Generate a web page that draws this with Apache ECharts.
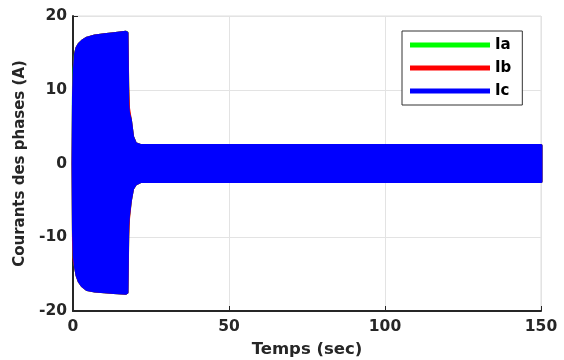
<!DOCTYPE html>
<html>
<head>
<meta charset="utf-8">
<script src="https://cdn.jsdelivr.net/npm/echarts@6/dist/echarts.min.js"></script>
<style>html,body{margin:0;padding:0;background:#fff;}#c{width:564px;height:360px;}</style>
</head>
<body>
<div id="c"></div>
<script>
// Envelope of the three phase currents (A) versus time (s)
var tEnv = [0, 0.15, 0.4, 0.8, 1.3, 2, 3, 4.5, 7, 10, 13, 16.9, 17.3, 17.55, 17.8, 18.4, 19.1, 20.0, 21.6, 150];
var iaUpper = [0, 10.5, 13.0, 15.0, 15.7, 16.2, 16.6, 17.0, 17.3, 17.45, 17.6, 17.8, 17.75, 10.0, 7.0, 5.9, 3.6, 2.7, 2.45, 2.45];
var iaLower = [0, -10.0, -12.8, -14.0, -15.2, -16.0, -16.6, -17.1, -17.3, -17.4, -17.5, -17.6, -17.5, -9.5, -7.2, -5.0, -3.4, -2.8, -2.45, -2.45];
var ibUpper = [0, 8.0, 12.0, 14.8, 15.7, 16.2, 16.6, 17.0, 17.3, 17.45, 17.6, 17.8, 17.7, 10.5, 7.5, 5.9, 3.6, 2.7, 2.45, 2.45];
var ibLower = [0, -10.5, -13.2, -14.0, -15.2, -16.0, -16.6, -17.1, -17.3, -17.4, -17.5, -17.6, -17.5, -10.0, -7.5, -5.0, -3.4, -2.8, -2.45, -2.45];
var icUpper = [0, 9.0, 12.5, 14.8, 15.7, 16.2, 16.6, 17.0, 17.3, 17.45, 17.6, 17.8, 17.7, 8.0, 6.8, 5.9, 3.6, 2.7, 2.45, 2.45];
var icLower = [0, -9.0, -12.5, -14.0, -15.2, -16.0, -16.6, -17.1, -17.3, -17.4, -17.5, -17.6, -17.5, -8.5, -7.0, -5.0, -3.4, -2.8, -2.45, -2.45];
var phaseNames = ['Ia', 'Ib', 'Ic'];
var phaseColors = ['#00ff00', '#ff0000', '#0000ff'];
var xTicks = [0, 50, 100, 150];
var yTicks = [-20, -10, 0, 10, 20];

var env = [[iaUpper, iaLower], [ibUpper, ibLower], [icUpper, icLower]];
var series = phaseNames.map(function (nm, k) {
  var up = env[k][0], lo = env[k][1], col = phaseColors[k];
  return {
    name: nm, type: 'custom', clip: false, silent: true, animation: false,
    itemStyle: { color: col },
    encode: { x: 0, y: [1, 2] },
    data: tEnv.map(function (t, i) { return [t, lo[i], up[i]]; }),
    renderItem: function (params, api) {
      if (params.dataIndexInside !== 0) return null;
      var n = params.dataInsideLength;
      var top = [], bot = [];
      for (var i = 0; i < n; i++) {
        var x = api.value(0, i);
        top.push(api.coord([x, api.value(2, i)]));
        bot.push(api.coord([x, api.value(1, i)]));
      }
      return {
        type: 'polygon',
        shape: { points: top.concat(bot.reverse()) },
        style: { fill: col, stroke: col, lineWidth: 3, lineJoin: 'round' }
      };
    }
  };
});

var FONT = 'DejaVu Sans';
var TXT = '#262626';
var chart = echarts.init(document.getElementById('c'), null, { renderer: 'canvas' });
chart.setOption({
  animation: false,
  backgroundColor: '#ffffff',
  grid: { left: 73, right: 23, top: 16, bottom: 49, show: true, borderColor: '#dedede', borderWidth: 1,
          containLabel: false, outerBoundsMode: 'none' },
  legend: {
    orient: 'vertical', left: 402, top: 31,
    data: phaseNames.map(function (n) { return { name: n, icon: 'rect' }; }),
    itemWidth: 80, itemHeight: 5, itemGap: 5,
    padding: [5, 11, 5, 8],
    borderColor: '#333333', borderWidth: 1, backgroundColor: '#ffffff',
    textStyle: { fontFamily: FONT, fontWeight: 'bold', fontSize: 15, color: '#000', lineHeight: 18 },
    selectedMode: false
  },
  xAxis: {
    type: 'value', min: xTicks[0], max: xTicks[xTicks.length - 1], interval: 50,
    name: 'Temps (sec)', nameLocation: 'middle', nameGap: 30,
    nameTextStyle: { fontFamily: FONT, fontWeight: 'bold', fontSize: 16.5, color: TXT },
    axisLine: { show: true, onZero: false, lineStyle: { color: TXT, width: 2 } },
    axisTick: { show: true, inside: true, length: 5, lineStyle: { color: TXT } },
    axisLabel: { fontFamily: FONT, fontWeight: 'bold', fontSize: 15.5, color: TXT, margin: 8 },
    splitLine: { show: true, lineStyle: { color: '#e3e3e3', width: 1 } }
  },
  yAxis: {
    type: 'value', min: yTicks[0], max: yTicks[yTicks.length - 1], interval: 10,
    name: 'Courants des phases (A)', nameLocation: 'middle', nameGap: 38, nameRotate: 90,
    nameTextStyle: { fontFamily: FONT, fontWeight: 'bold', fontSize: 15, color: TXT },
    axisLine: { show: true, onZero: false, lineStyle: { color: TXT, width: 2 } },
    axisTick: { show: true, inside: true, length: 5, lineStyle: { color: TXT } },
    axisLabel: { fontFamily: FONT, fontWeight: 'bold', fontSize: 15.5, color: TXT, margin: 6 },
    splitLine: { show: true, lineStyle: { color: '#e3e3e3', width: 1 } }
  },
  series: series
});
</script>
</body>
</html>
